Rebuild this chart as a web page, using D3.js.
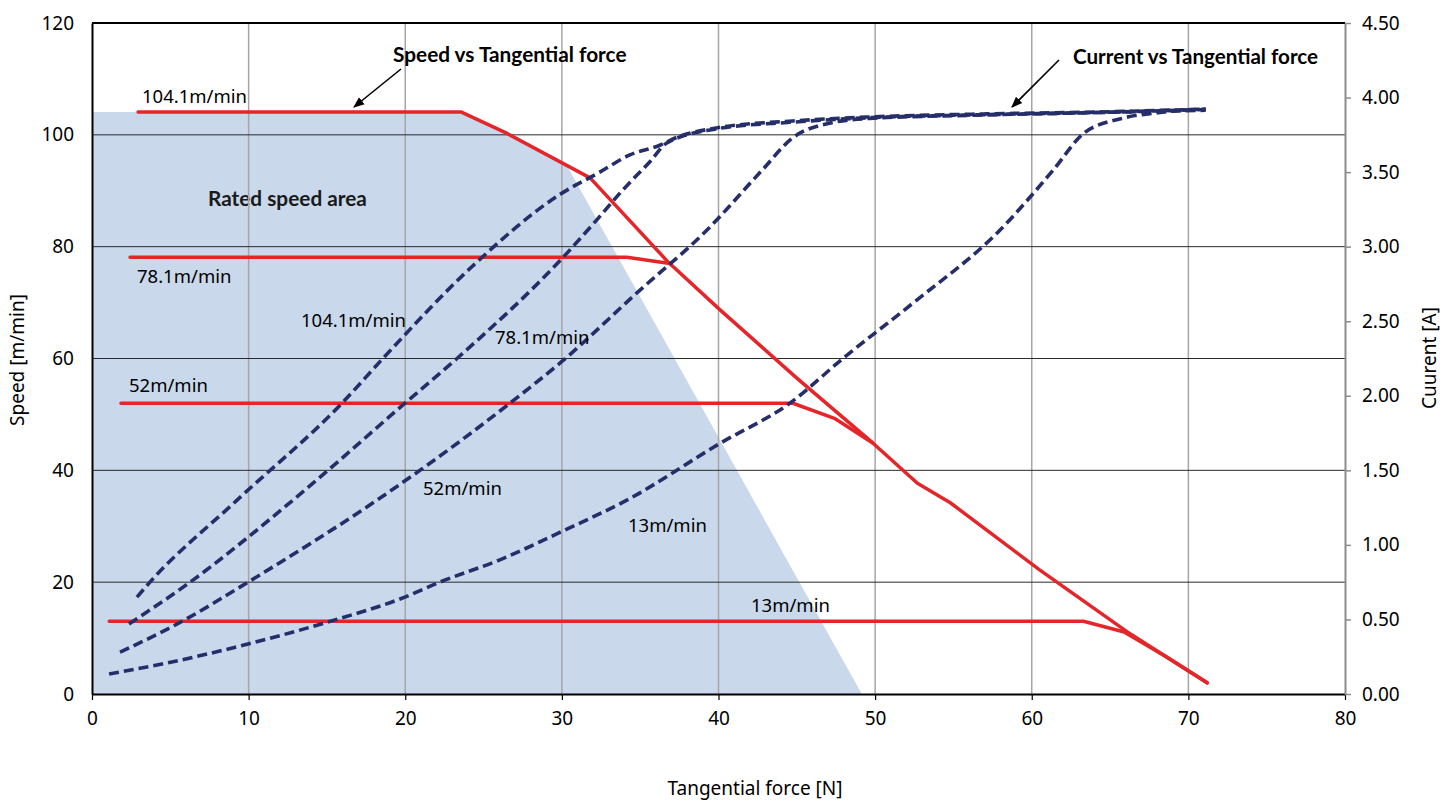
<!DOCTYPE html>
<html><head><meta charset="utf-8">
<script src="https://cdn.jsdelivr.net/npm/d3@7/dist/d3.min.js"></script>
<style>
html,body{margin:0;padding:0;background:#fff;}
svg{display:block;}
.tick text{font-family:"Noto Sans","DejaVu Sans",sans-serif;}
</style></head>
<body>
<svg id="chart" width="1451" height="803"></svg>
<script>
// ---------- data ----------
const xTicks = [0,10,20,30,40,50,60,70,80];
const yTicks = [0,20,40,60,80,100,120];
const yRTicks = [0,0.5,1,1.5,2,2.5,3,3.5,4,4.5];

// Speed vs tangential force (left axis, m/min)
const speed104X = [2.94, 23.55, 26.4, 31.8, 36.8, 40.1, 45.0, 49.85, 52.7, 54.8, 60.5, 66.1, 71.2];
const speed104Y = [104.1, 104.1, 100.4, 92.3, 77.2, 68.7, 56.5, 44.9, 37.7, 34.2, 22.2, 11.1, 2.0];
const speed78X = [2.43, 34.15, 36.9];
const speed78Y = [78.1, 78.1, 77.0];
const speed52X = [1.85, 44.75, 47.4, 49.85];
const speed52Y = [52, 52, 49.3, 44.9];
const speed13X = [1.1, 63.3, 65.9, 68.5, 71.2];
const speed13Y = [13, 13, 11.1, 6.8, 2.0];

// Current vs tangential force (right axis, A)
const curr104X = [2.87, 3.70, 9.26, 15.96, 18.57, 24.2, 29.87, 32.42, 34.34, 36.25, 37.4, 39.86, 44.74, 49.66, 56.94, 64.28, 71.1];
const curr104Y = [0.65, 0.75, 1.30, 1.95, 2.25, 2.86, 3.35, 3.50, 3.615, 3.68, 3.736, 3.796, 3.843, 3.87, 3.89, 3.903, 3.923];
const curr78X = [2.36, 6.26, 12.83, 19.98, 23.3, 30.0, 32.23, 33.89, 35.62, 36.7, 39.86, 44.74, 49.66, 56.94, 64.28, 71.1];
const curr78Y = [0.47, 0.75, 1.30, 1.95, 2.25, 2.92, 3.18, 3.38, 3.57, 3.695, 3.79, 3.835, 3.865, 3.885, 3.90, 3.915];
const curr52X = [1.79, 5.62, 9.96, 18.19, 20.94, 26.68, 30.0, 34.79, 39.25, 42.76, 44.74, 47.17, 49.66, 56.94, 64.28, 71.1];
const curr52Y = [0.28, 0.48, 0.75, 1.30, 1.50, 1.95, 2.23, 2.69, 3.11, 3.51, 3.73, 3.83, 3.86, 3.883, 3.90, 3.92];
const curr13X = [1.09, 4.79, 9.96, 15.06, 19.98, 22.2, 26.04, 30.0, 34.15, 40.08, 44.55, 47.94, 52.4, 57.96, 61.34, 63.32, 65.74, 68.2, 71.1];
const curr13Y = [0.134, 0.208, 0.335, 0.483, 0.65, 0.75, 0.90, 1.09, 1.30, 1.68, 1.95, 2.25, 2.62, 3.11, 3.51, 3.76, 3.86, 3.90, 3.923];

// Rated speed area outline
const areaX = [0, 0, 23.55, 26.4, 30.3, 49.15];
const areaY = [0, 104.1, 104.1, 100.4, 94.6, 0];

// ---------- chart ----------
const svg = d3.select("#chart");
const L = 92, R = 1345, T = 23, B = 694;
const x = d3.scaleLinear().domain([0,80]).range([L,R]);
const y = d3.scaleLinear().domain([0,120]).range([B,T]);
const yR = d3.scaleLinear().domain([0,4.5]).range([B,T]);

const zip = (xs, ys) => xs.map((v,i)=>[v, ys[i]]);
const boldFont = "Lato, 'Open Sans', sans-serif";
const txtFont = "'Noto Sans','DejaVu Sans',sans-serif";

// shaded area
svg.append("path")
  .attr("d", d3.line().x(d=>x(d[0])).y(d=>y(d[1]))(zip(areaX, areaY)) + "Z")
  .attr("fill", "#c9d8eb");

svg.append("text").attr("x", 208).attr("y", 206)
  .attr("font-family",boldFont).attr("font-weight","bold")
  .attr("font-size",20.8).attr("fill","#1a1a1a").text("Rated speed area");

// vertical gridlines
svg.append("g").selectAll("line").data(xTicks.filter(d=>d>0 && d<80)).join("line")
  .attr("x1", d=>x(d)).attr("x2", d=>x(d)).attr("y1", T).attr("y2", B)
  .attr("stroke", "#a6a6a6").attr("stroke-width", 1.5);
// horizontal gridlines
svg.append("g").selectAll("line").data(yTicks.filter(d=>d>0 && d<120)).join("line")
  .attr("x1", L).attr("x2", R).attr("y1", d=>y(d)).attr("y2", d=>y(d))
  .attr("stroke", "#2a2a2a").attr("stroke-width", 1);
// top border
svg.append("line").attr("x1", L).attr("x2", R).attr("y1", T).attr("y2", T)
  .attr("stroke", "#000").attr("stroke-width", 2);

// x axis
const xAxis = svg.append("g").attr("transform", `translate(0,${B})`)
  .call(d3.axisBottom(x).tickValues(xTicks).tickSize(6).tickSizeOuter(0).tickPadding(12));
xAxis.select(".domain").attr("stroke","#000").attr("stroke-width",2);
xAxis.selectAll(".tick line").attr("stroke","#000").attr("stroke-width",1.2);
xAxis.selectAll(".tick text").attr("font-size",19).attr("fill","#000");

// left axis
const yAxis = svg.append("g").attr("transform", `translate(${L},0)`)
  .call(d3.axisLeft(y).tickValues(yTicks).tickSize(0).tickPadding(18));
yAxis.select(".domain").attr("stroke","#000").attr("stroke-width",2);
yAxis.selectAll(".tick text").attr("font-size",19).attr("fill","#000");

// right axis
const yRAxis = svg.append("g").attr("transform", `translate(${R},0)`)
  .call(d3.axisRight(yR).tickValues(yRTicks).tickFormat(d3.format(".2f")).tickSize(6).tickSizeOuter(0).tickPadding(11));
yRAxis.select(".domain").attr("stroke","#8c8c8c").attr("stroke-width",2);
yRAxis.selectAll(".tick line").attr("stroke","#8c8c8c").attr("stroke-width",1.5);
yRAxis.selectAll(".tick text").attr("font-size",19).attr("fill","#000");

// axis titles
svg.append("text").attr("transform","translate(24,360) rotate(-90)").attr("text-anchor","middle")
  .attr("font-family",txtFont).attr("font-size",19).attr("fill","#000").text("Speed [m/min]");
svg.append("text").attr("transform","translate(1436,358) rotate(-90)").attr("text-anchor","middle")
  .attr("font-family",txtFont).attr("font-size",19).attr("fill","#000").text("Cuurent [A]");
svg.append("text").attr("x",755).attr("y",795).attr("text-anchor","middle")
  .attr("font-family",txtFont).attr("font-size",19).attr("fill","#000").text("Tangential force [N]");

// speed lines
const lineS = d3.line().x(d=>x(d[0])).y(d=>y(d[1]));
[[speed13X,speed13Y],[speed52X,speed52Y],[speed78X,speed78Y],[speed104X,speed104Y]].forEach(([xs,ys])=>{
  svg.append("path").attr("d", lineS(zip(xs,ys))).attr("fill","none")
    .attr("stroke","#e4262a").attr("stroke-width",3.5).attr("stroke-linejoin","round").attr("stroke-linecap","round");
});

// current lines
const lineC = d3.line().x(d=>x(d[0])).y(d=>yR(d[1])).curve(d3.curveMonotoneX);
[[curr13X,curr13Y],[curr52X,curr52Y],[curr78X,curr78Y],[curr104X,curr104Y]].forEach(([xs,ys])=>{
  svg.append("path").attr("d", lineC(zip(xs,ys))).attr("fill","none")
    .attr("stroke","#262e6a").attr("stroke-width",3.6).attr("stroke-dasharray","10,5");
});

// series labels
const lab = [
  ["104.1m/min", 142, 103], ["78.1m/min", 137, 283], ["52m/min", 129, 392], ["13m/min", 751, 612],
  ["104.1m/min", 301, 327], ["78.1m/min", 495, 344], ["52m/min", 423, 495], ["13m/min", 628, 532]
];
svg.append("g").selectAll("text").data(lab).join("text")
  .attr("x", d=>d[1]).attr("y", d=>d[2])
  .attr("font-family",txtFont).attr("font-size",18.5).attr("fill","#000").text(d=>d[0]);

// annotations with arrows
svg.append("defs").append("marker").attr("id","arr").attr("viewBox","0 0 10 10")
  .attr("refX",9).attr("refY",5).attr("markerWidth",7).attr("markerHeight",7).attr("orient","auto")
  .append("path").attr("d","M0,1 L10,5 L0,9 Z").attr("fill","#000");
svg.append("text").attr("x",393).attr("y",62).attr("font-family",boldFont)
  .attr("font-weight","bold").attr("font-size",20.8).attr("fill","#000").text("Speed vs Tangential force");
svg.append("line").attr("x1",401).attr("y1",69).attr("x2",354).attr("y2",107)
  .attr("stroke","#000").attr("stroke-width",1.6).attr("marker-end","url(#arr)");
svg.append("text").attr("x",1073).attr("y",64).attr("font-family",boldFont)
  .attr("font-weight","bold").attr("font-size",20.6).attr("fill","#000").text("Current vs Tangential force");
svg.append("line").attr("x1",1059).attr("y1",60).attr("x2",1012).attr("y2",107)
  .attr("stroke","#000").attr("stroke-width",1.6).attr("marker-end","url(#arr)");
</script>
</body></html>
